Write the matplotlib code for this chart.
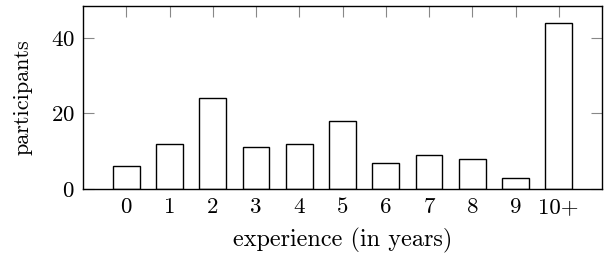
import matplotlib
matplotlib.use("Agg")
import matplotlib.pyplot as plt

# experience survey data
categories = ["0", "1", "2", "3", "4", "5", "6", "7", "8", "9", "10+"]
participants = [6, 12, 24, 11, 12, 18, 7, 9, 8, 3, 44]
yticks = [0, 20, 40]

plt.rcParams["font.family"] = ["cmr10", "DejaVu Serif"]
plt.rcParams["mathtext.fontset"] = "cm"
plt.rcParams["axes.unicode_minus"] = False
plt.rcParams["axes.formatter.use_mathtext"] = True

fig = plt.figure(figsize=(6.05, 2.56), dpi=100)
ax = fig.add_axes([83 / 605, 1 - 189 / 256, (602 - 83) / 605, (189 - 6) / 256])

positions = list(range(len(categories)))
ax.bar(positions, participants, width=0.62, facecolor="white", edgecolor="black",
       linewidth=1.0, zorder=3)

ax.set_xlim(-1, 11)
ax.set_ylim(0, 48.4)
ax.set_xticks(positions)
ax.set_xticklabels(categories)
ax.set_yticks(yticks)
ax.tick_params(direction="in", length=8, width=0.8, color="#888888",
               top=True, right=True, labelsize=16.5, pad=6)
for s in ax.spines.values():
    s.set_linewidth(1.0)
    s.set_zorder(4)

ax.set_xlabel("experience (in years)", fontsize=17.5, labelpad=8)
ax.set_ylabel("participants", fontsize=16, labelpad=13)

fig.savefig("out.png", dpi=100)
